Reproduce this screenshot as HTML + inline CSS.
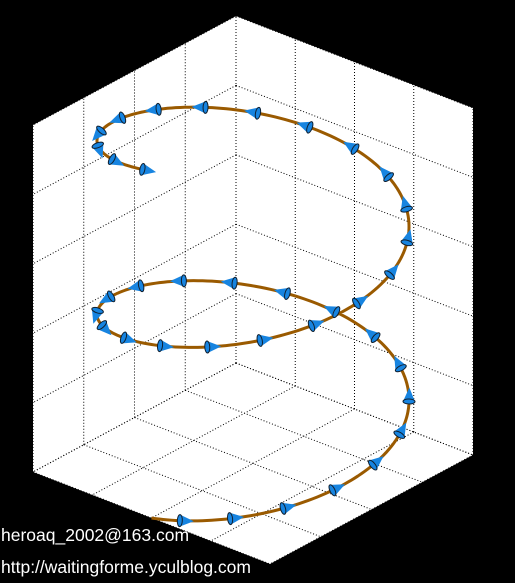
<!DOCTYPE html>
<html><head><meta charset="utf-8">
<style>
html,body{margin:0;padding:0;background:#000;}
#wrap{position:relative;width:515px;height:583px;overflow:hidden;background:#000;}
svg{position:absolute;left:0;top:0;}
.wm{position:absolute;left:1px;color:#fff;font-family:"Liberation Sans",sans-serif;font-size:17.5px;white-space:nowrap;}
</style></head>
<body>
<div id="wrap">
<svg id="chart" width="515" height="583"></svg>
<div class="wm" style="top:525px">heroaq_2002@163.com</div>
<div class="wm" style="top:557px">http://waitingforme.yculblog.com</div>
</div>
<script>
// data
const xTicks = [-1, -0.5, 0, 0.5, 1];
const yTicks = [-1, -0.5, 0, 0.5, 1];
const zTicks = [0, 0.2, 0.4, 0.6, 0.8, 1];
const turns = [2];
const arrowCount = [37];
const arrowStart = [0.22];

const NS = "http://www.w3.org/2000/svg";
const svg = document.getElementById('chart');
const inner = [236, 363], xvec = [-203, 109], yvec = [237, 92], zvec = [0, -347];
function proj(x, y, z) {
  const a = (x + 1) / 2, b = (y + 1) / 2;
  return [inner[0] + a * xvec[0] + b * yvec[0] + z * zvec[0],
          inner[1] + a * xvec[1] + b * yvec[1] + z * zvec[1]];
}
function mk(tag, attrs) {
  const e = document.createElementNS(NS, tag);
  for (const k in attrs) e.setAttribute(k, attrs[k]);
  svg.appendChild(e);
  return e;
}
const hex = [proj(-1,-1,1), proj(1,-1,1), proj(1,-1,0), proj(1,1,0), proj(-1,1,0), proj(-1,1,1)];
const bg = mk('polygon', {points: hex.map(p => p.join(',')).join(' '), fill: '#fff'});


function dline(p, q, name) {
  const l = mk('line', {x1: p[0], y1: p[1], x2: q[0], y2: q[1], stroke: '#000', 'stroke-width': 1, 'stroke-dasharray': '1,2'});
  
  
}
xTicks.forEach(x => dline(proj(x,-1,0), proj(x,-1,1), 'grid-line-x'));
yTicks.forEach(y => dline(proj(-1,y,0), proj(-1,y,1), 'grid-line-y'));
zTicks.forEach(z => { dline(proj(-1,-1,z), proj(1,-1,z), 'grid-line-z'); dline(proj(-1,-1,z), proj(-1,1,z), 'grid-line-z'); });
xTicks.forEach(x => dline(proj(x,-1,0), proj(x,1,0), 'floor-grid-x'));
yTicks.forEach(y => dline(proj(-1,y,0), proj(1,y,0), 'floor-grid-y'));

const tMax = 2 * Math.PI * turns[0];
function helix(t) { return proj(Math.cos(t), Math.sin(t), t / tMax); }
let pts = [];
for (let i = 0; i <= 400; i++) { const t = tMax * i / 400; pts.push(helix(t).map(v => v.toFixed(2)).join(',')); }
const hl = mk('polyline', {points: pts.join(' '), fill: 'none', stroke: '#9a5a00', 'stroke-width': 3, 'stroke-linejoin': 'round'});



const n = arrowCount[0], step = (tMax - 0.08 - arrowStart[0]) / (n - 1);
for (let k = 0; k < n; k++) {
  const t = arrowStart[0] + k * step;
  const b = helix(t);
  const tipP = helix(t + 0.001);
  let dx = tipP[0] - b[0], dy = tipP[1] - b[1];
  const m = Math.hypot(dx, dy); dx /= m; dy /= m;
  const L = 14, r = 6;
  const tip = [b[0] + dx * L, b[1] + dy * L];
  const g = document.createElementNS(NS, 'g');
  
  
  svg.appendChild(g);
  const tri = document.createElementNS(NS, 'polygon');
  tri.setAttribute('points', [tip, [b[0] - dy * r, b[1] + dx * r], [b[0] + dy * r, b[1] - dx * r]].map(p => p.join(',')).join(' '));
  tri.setAttribute('fill', '#1784e0');
  g.appendChild(tri);
  const ang = Math.atan2(dy, dx) * 180 / Math.PI;
  const el = document.createElementNS(NS, 'ellipse');
  el.setAttribute('cx', b[0]); el.setAttribute('cy', b[1]);
  el.setAttribute('rx', 2.5); el.setAttribute('ry', r);
  el.setAttribute('transform', `rotate(${ang} ${b[0]} ${b[1]})`);
  el.setAttribute('fill', '#1784e0'); el.setAttribute('stroke', '#102030'); el.setAttribute('stroke-width', 1);
  g.appendChild(el);
}
</script>
</body></html>
